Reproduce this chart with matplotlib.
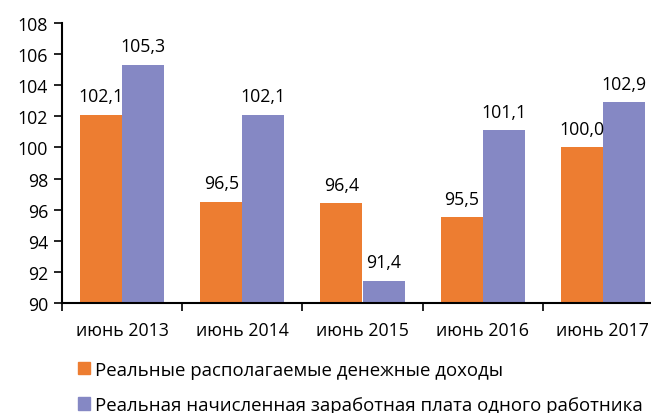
import matplotlib.pyplot as plt
import numpy as np
from matplotlib.patches import Patch

plt.rcParams["font.family"] = ["Open Sans", "DejaVu Sans"]

categories = ["июнь 2013", "июнь 2014", "июнь 2015", "июнь 2016", "июнь 2017"]
income = [102.1, 96.5, 96.4, 95.5, 100.0]
wages = [105.3, 102.1, 91.4, 101.1, 102.9]
series_names = [
    "Реальные располагаемые денежные доходы",
    "Реальная начисленная заработная плата одного работника",
]

ORANGE = "#ED7D31"
PURPLE = "#8588C4"
FS = 12.8

fig = plt.figure(figsize=(6.51, 4.14), dpi=100, facecolor="white")
ax = fig.add_axes([62 / 651, 1 - 304 / 414, 601 / 651, 280 / 414])

x = np.arange(len(categories))
w = 0.35
ax.bar(x - w / 2, [v - 90 for v in income], w, bottom=90, color=ORANGE)
ax.bar(x + w / 2, [v - 90 for v in wages], w, bottom=90, color=PURPLE)

for xs, vals in ((x - w / 2, income), (x + w / 2, wages)):
    for xi, v in zip(xs, vals):
        ax.annotate(f"{v:.1f}".replace(".", ","), (xi, v), xytext=(0, 7),
                    textcoords="offset points", ha="center", va="bottom",
                    fontsize=FS, color="#000000")

ax.set_xlim(-0.5, len(categories) - 0.5)
ax.set_ylim(90, 108)
ax.set_yticks(range(90, 109, 2))
ax.set_xticks(x)
ax.set_xticklabels(categories)
ax.set_xticks(np.arange(-0.5, len(categories), 1.0), minor=True)
ax.tick_params(axis="x", which="major", length=0, pad=13, labelsize=FS)
ax.tick_params(axis="x", which="minor", length=6, width=1.2, direction="out")
ax.tick_params(axis="y", length=6, width=1.2, direction="out", pad=4,
               labelsize=FS)

for s in ("top", "right"):
    ax.spines[s].set_visible(False)
for s in ("left", "bottom"):
    ax.spines[s].set_linewidth(1.5)

handles = [Patch(color=ORANGE, label=series_names[0]),
           Patch(color=PURPLE, label=series_names[1])]
fig.legend(handles=handles, loc="lower left", bbox_to_anchor=(74 / 651, -0.012),
           frameon=False, fontsize=13.4, handlelength=0.65, handleheight=0.65,
           handletextpad=0.3, labelspacing=0.95, borderpad=0.2,
           borderaxespad=0)

fig.savefig("out.png", dpi=100, facecolor="white")
